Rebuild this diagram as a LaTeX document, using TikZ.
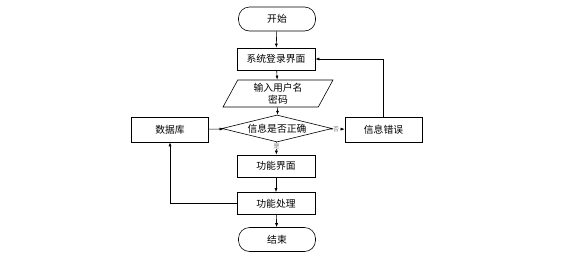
\documentclass[tikz,border=0pt]{standalone}
\usepackage{fontspec}
\setmainfont{Noto Sans CJK SC}
\usetikzlibrary{arrows.meta,positioning,shapes.geometric}
\definecolor{ink}{HTML}{000000}
\definecolor{tag}{HTML}{7F7F7F}
\tikzset{
  >={Latex[length=4pt,width=3pt]},
  every node/.style={font=\fontsize{9.8pt}{11pt}\selectfont,text=ink},
  stepbox/.style={draw=ink,line width=0.6pt,minimum width=78pt,minimum height=22pt,inner sep=1pt,align=center},
  sidebox/.style={stepbox,minimum width=77pt,minimum height=25pt},
  terminal/.style={draw=ink,line width=0.6pt,rounded corners=11pt,minimum width=77pt,minimum height=24pt},
  iobox/.style={draw=ink,line width=0.6pt,trapezium,trapezium left angle=55,trapezium right angle=125,trapezium stretches body,minimum width=110pt,minimum height=27pt,inner sep=0pt,align=center,font=\fontsize{9.8pt}{12pt}\selectfont},
  decision/.style={draw=ink,line width=0.6pt,diamond,aspect=4,minimum width=110pt,minimum height=27pt,inner sep=0pt},
  arrow/.style={->,line width=0.6pt,draw=ink},
  tagtext/.style={font=\fontsize{6pt}{6pt}\selectfont,text=tag,fill=white,inner sep=0.5pt},
}
\begin{document}
\begin{tikzpicture}[x=1pt,y=1pt]
\useasboundingbox (0,0) rectangle (569,-263);

\node[terminal] (start) at (277,-19) {开始};
\node[stepbox] (login) at (276,-59) {系统登录界面};
\node[iobox] (input) at (278,-93.5) {输入用户名\\密码};
\node[decision] (check) at (277,-128.5) {信息是否正确};
\node[sidebox] (db) at (170,-129.5) {数据库};
\node[sidebox] (err) at (383.5,-129.5) {信息错误};
\node[stepbox] (menu) at (276,-166) {功能界面};
\node[stepbox] (proc) at (276,-203.5) {功能处理};
\node[terminal] (stop) at (277,-239.5) {结束};

\draw[arrow] (start) -- (login);
\draw[arrow] (login) -- (input);
\draw[arrow] (input) -- (check);
\draw[arrow] (check) -- node[tagtext,pos=0.4] {否} (err);
\draw[arrow] (err.north) |- (login.east);
\draw[arrow] (db) -- (check);
\draw[arrow] (check) -- node[tagtext,pos=0.3] {是} (menu);
\draw[arrow] (menu) -- (proc);
\draw[arrow] (proc.west) -| (db.south);
\draw[arrow] (proc) -- (stop);

\end{tikzpicture}
\end{document}
